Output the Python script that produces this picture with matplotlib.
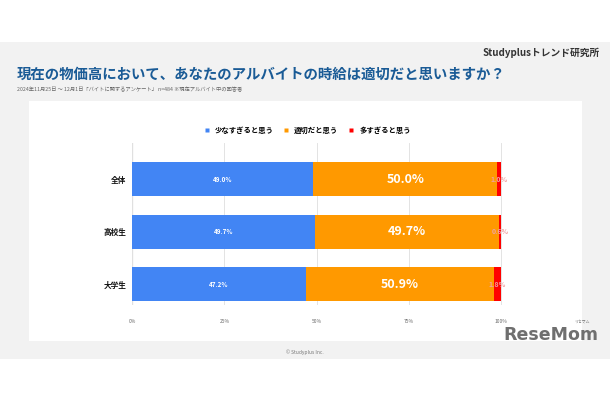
import numpy as np
import matplotlib
matplotlib.use("Agg")
import matplotlib.pyplot as plt
from matplotlib.patches import Rectangle
from matplotlib.lines import Line2D

plt.rcParams['font.family'] = ['Noto Sans CJK JP', 'DejaVu Sans']

# データ
groups = ["全体", "高校生", "大学生"]
series_names = ["少なすぎると思う", "適切だと思う", "多すぎると思う"]
too_low = [49.0, 49.7, 47.2]
fair = [50.0, 49.7, 50.9]
too_high = [1.0, 0.6, 1.8]
xticks = [0, 25, 50, 75, 100]
xtick_labels = ["0%", "25%", "50%", "75%", "100%"]

colors = ["#4285f4", "#ff9900", "#ff0000"]

W, H = 610, 400
fig = plt.figure(figsize=(6.1, 4.0), dpi=100)
fig.patch.set_facecolor("white")

def fx(px):
    return px / W

def fy(py):
    return 1 - py / H

# 背景パネル
fig.patches.append(Rectangle((0, fy(359)), 1, fy(42) - fy(359), transform=fig.transFigure,
                             facecolor="#f2f2f2", edgecolor="none", zorder=-2))
fig.patches.append(Rectangle((fx(29), fy(341)), fx(582) - fx(29), fy(101) - fy(341),
                             transform=fig.transFigure, facecolor="white",
                             edgecolor="none", zorder=-1))

# 見出し
fig.text(fx(600), fy(53), "Studyplusトレンド研究所", ha="right", va="center",
         fontsize=7, fontweight="bold", color="#333333")
fig.text(fx(17), fy(75), "現在の物価高において、あなたのアルバイトの時給は適切だと思いますか？",
         ha="left", va="center", fontsize=10.4, fontweight="bold", color="#1a5b96")
fig.text(fx(17), fy(90), "2024年11月25日 ～ 12月1日「バイトに関するアンケート」 n=484 ※現在アルバイト中の回答者",
         ha="left", va="center", fontsize=3.8, color="#666666")
fig.text(fx(305), fy(352), "© Studyplus Inc.", ha="center", va="center",
         fontsize=3.5, color="#777777")

# グラフ
ax = fig.add_axes([fx(132), fy(305), fx(503) - fx(132), fy(143) - fy(305)])
ax.set_facecolor("none")
y = np.arange(len(groups))
h = 0.65
ax.barh(y, too_low, height=h, color=colors[0], label=series_names[0], zorder=2)
ax.barh(y, fair, left=too_low, height=h, color=colors[1], label=series_names[1], zorder=2)
left3 = np.array(too_low) + np.array(fair)
ax.barh(y, too_high, left=left3, height=h, color=colors[2], label=series_names[2], zorder=2)

for i in range(len(groups)):
    ax.text(too_low[i] / 2, y[i], f"{too_low[i]:.1f}%", ha="center", va="center",
            fontsize=4.5, fontweight="bold", color="white", zorder=3)
    ax.text(too_low[i] + fair[i] / 2, y[i], f"{fair[i]:.1f}%", ha="center", va="center",
            fontsize=9, fontweight="bold", color="white", zorder=3)
    ax.text(left3[i] + too_high[i] / 2, y[i], f"{too_high[i]:.1f}%", ha="center", va="center",
            fontsize=5, fontweight="bold", color="#f0a0a0", zorder=3)

ax.set_xlim(0, 100.5)
ax.set_ylim(2.4, -0.69)
ax.set_xticks(xticks)
ax.set_xticklabels(xtick_labels, fontsize=3.5, color="#666666")
ax.set_yticks(y)
ax.set_yticklabels(groups, fontsize=5.5, fontweight="bold", color="#111111")
ax.tick_params(axis="both", length=0, pad=4)
ax.tick_params(axis="x", pad=10)
ax.grid(axis="x", color="#e3e3e3", linewidth=0.7, zorder=0)
for s in ax.spines.values():
    s.set_visible(False)
ax.axvline(0, color="#999999", linewidth=0.8, zorder=1)

handles = [Line2D([], [], marker="s", linestyle="none", markersize=3.2,
                  markerfacecolor=c, markeredgecolor="none") for c in colors]
fig.legend(handles, series_names, loc="center", bbox_to_anchor=(fx(305), fy(130)),
           ncol=3, frameon=False, handletextpad=0.1, columnspacing=0.7,
           prop={"weight": "bold", "size": 5.3})

# ロゴ
fig.text(fx(598), fy(335), "ReseMom", ha="right", va="center", fontsize=12.5,
         fontweight="bold", color="#6f6f6f", family="DejaVu Sans")
fig.text(fx(590), fy(322), "リセマム", ha="right", va="center", fontsize=2.8,
         color="#6f6f6f")

fig.savefig("out.png", dpi=100)
